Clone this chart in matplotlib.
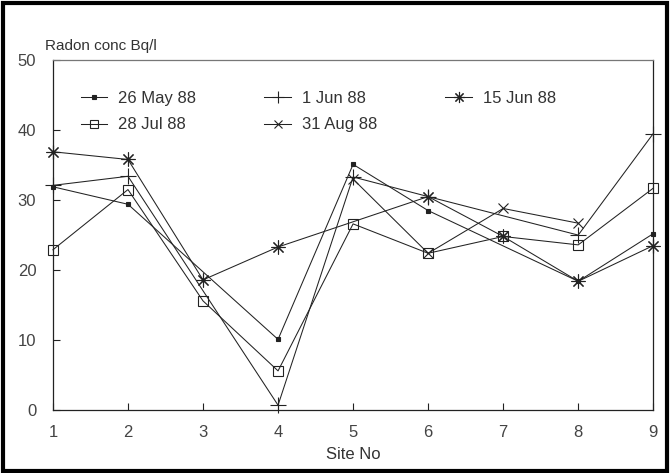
import numpy as np
import matplotlib.pyplot as plt
from matplotlib.patches import Rectangle

plt.rcParams['font.family'] = ['Liberation Sans', 'DejaVu Sans']

sites = np.arange(1, 10)

# None = no reading at that site (line runs straight past it)
may26 = [31.9, 29.4, None, 10.1, 35.1, 28.5, None, 18.4, 25.2]
jun01 = [32.1, 33.4, None, 0.7, 33.3, 30.5, None, 25.0, 39.5]
jun15 = [36.9, 35.8, 18.6, 23.3, None, 30.5, 24.8, 18.4, 23.5]
jul28 = [22.9, 31.5, 15.6, 5.6, 26.6, 22.4, 24.8, 23.6, 31.7]
aug31 = [None, None, None, None, 33.0, 22.4, 28.8, 26.7, None]

labels = ["26 May 88", "1 Jun 88", "15 Jun 88", "28 Jul 88", "31 Aug 88"]
markers = ["s", "+", (8, 2, 0), "s", "x"]
msizes = [3, 11, 10, 7.5, 7]
filled = [True, True, True, False, True]

fig = plt.figure(figsize=(6.7, 4.73), dpi=100)
ax = fig.add_axes([0.079, 0.133, 0.896, 0.74])

ink = "#222222"
handles = {}
for vals, lab, m, ms, f in zip([may26, jun01, jun15, jul28, aug31], labels, markers, msizes, filled):
    y = np.array([np.nan if v is None else v for v in vals])
    ok = ~np.isnan(y)
    h, = ax.plot(sites[ok], y[ok], color=ink, lw=0.75, marker=m, markersize=ms,
                 markeredgewidth=0.8, markerfacecolor=ink if f else "none",
                 markeredgecolor=ink, label=lab, clip_on=False)
    handles[lab] = h

order = ["26 May 88", "28 Jul 88", "1 Jun 88", "31 Aug 88", "15 Jun 88"]
ax.legend([handles[k] for k in order], order, ncol=3, frameon=False,
          loc="upper left", bbox_to_anchor=(0.021, 0.955), fontsize=12,
          handlelength=1.6, handletextpad=0.65, columnspacing=4.1,
          labelspacing=0.7, markerscale=0.8, labelcolor="#333333")

ax.set_xlim(1, 9)
ax.set_ylim(0, 50)
ax.set_xticks(sites)
ax.set_yticks([0, 10, 20, 30, 40, 50])
ax.tick_params(direction="in", length=5, width=0.8, colors=ink,
               labelcolor="#444444", labelsize=12)
ax.tick_params(axis="y", pad=12)
ax.tick_params(axis="x", pad=11)
for s in ax.spines.values():
    s.set_linewidth(0.9)
    s.set_color(ink)
ax.spines["top"].set_color("#777777")

ax.set_xlabel("Site No", fontsize=12, color="#333333", labelpad=5)
fig.text(0.067, 0.895, "Radon conc Bq/l", fontsize=11, color="#333333")

# heavy frame round the whole figure, as on the scanned page
fig.patches.append(Rectangle((0.004, 0.004), 0.992, 0.99, transform=fig.transFigure,
                             fill=False, lw=3, edgecolor="black"))

fig.savefig("out.png", dpi=100)
